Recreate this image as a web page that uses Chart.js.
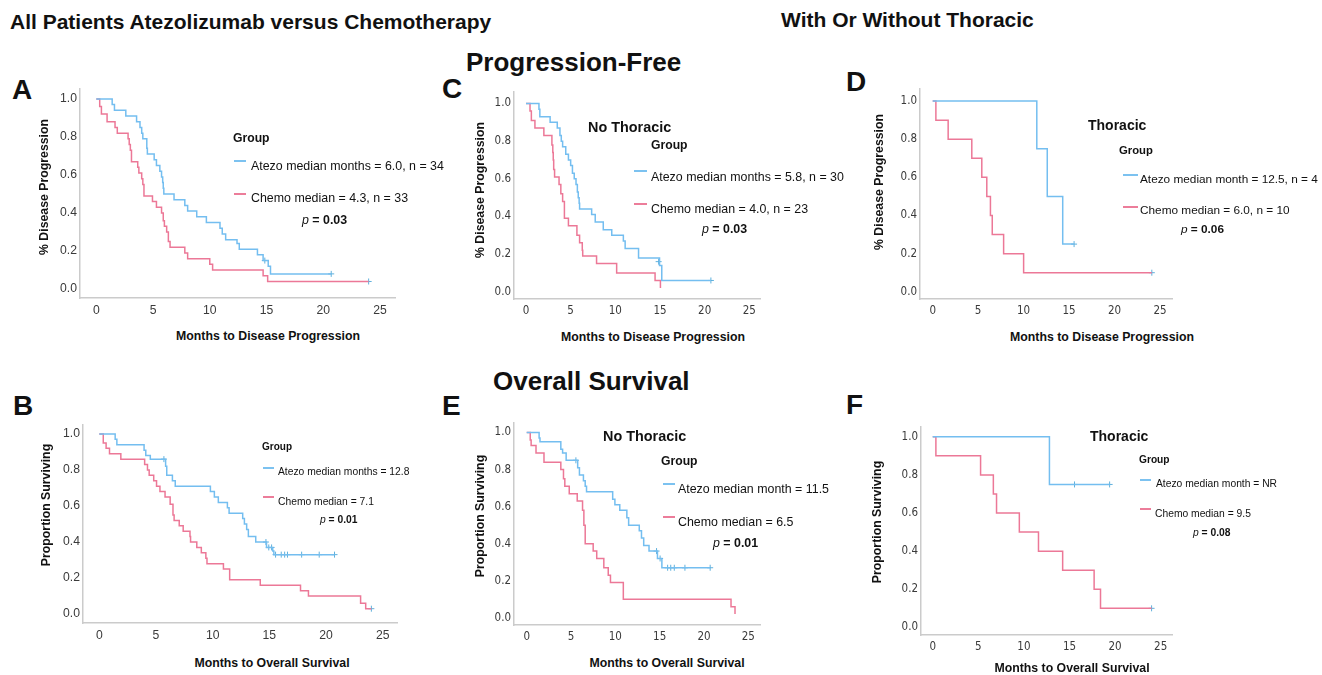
<!DOCTYPE html>
<html>
<head>
<meta charset="utf-8">
<script src="https://cdn.jsdelivr.net/npm/chart.js@4.4.1/dist/chart.umd.min.js"></script>
<style>
    body { margin: 0; width: 1322px; height: 675px; background: #fff; position: relative; overflow: hidden;
           font-family: "Liberation Sans", Arial, sans-serif; color: #111; }
    .t { position: absolute; white-space: nowrap; line-height: 1; transform: translateY(-50%); }
    .b { font-weight: bold; }
    .c { transform: translate(-50%, -50%); }
    .r { transform: translate(-50%, -50%) rotate(-90deg); }
    .sw { position: absolute; height: 2px; }
    .blue { background: #7cc2f0; }
    .pink { background: #ec7d9a; }
    canvas { position: absolute; }
</style>
</head>
<body>

<!-- headings -->
<div class="t b" style="left:10px;top:21px;font-size:21px">All Patients Atezolizumab versus Chemotherapy</div>
<div class="t b" style="left:781px;top:19px;font-size:21px">With Or Without Thoracic</div>
<div class="t b" style="left:466px;top:62px;font-size:26px">Progression-Free</div>
<div class="t b" style="left:493px;top:381px;font-size:26px">Overall Survival</div>

<div class="t b" style="left:12px;top:90px;font-size:28px">A</div>
<div class="t b" style="left:13px;top:406px;font-size:28px">B</div>
<div class="t b" style="left:442px;top:89px;font-size:28px">C</div>
<div class="t b" style="left:846px;top:82px;font-size:28px">D</div>
<div class="t b" style="left:442px;top:406px;font-size:28px">E</div>
<div class="t b" style="left:846px;top:405px;font-size:28px">F</div>

<canvas id="cA"></canvas>
<canvas id="cB"></canvas>
<canvas id="cC"></canvas>
<canvas id="cD"></canvas>
<canvas id="cE"></canvas>
<canvas id="cF"></canvas>

<!-- axis titles -->
<div class="t b c" style="left:268px;top:336px;font-size:12.3px">Months to Disease Progression</div>
<div class="t b r" style="left:44px;top:187px;font-size:12.3px">% Disease Progression</div>
<div class="t b c" style="left:272px;top:663px;font-size:12.3px">Months to Overall Survival</div>
<div class="t b r" style="left:46px;top:505px;font-size:12.3px">Proportion Surviving</div>
<div class="t b c" style="left:653px;top:337px;font-size:12.3px">Months to Disease Progression</div>
<div class="t b r" style="left:480px;top:190px;font-size:12.3px">% Disease Progression</div>
<div class="t b c" style="left:1102px;top:337px;font-size:12.3px">Months to Disease Progression</div>
<div class="t b r" style="left:879px;top:182px;font-size:12.3px">% Disease Progression</div>
<div class="t b c" style="left:667px;top:663px;font-size:12.3px">Months to Overall Survival</div>
<div class="t b r" style="left:480px;top:516px;font-size:12.3px">Proportion Surviving</div>
<div class="t b c" style="left:1072px;top:668px;font-size:12.3px">Months to Overall Survival</div>
<div class="t b r" style="left:877px;top:522px;font-size:12.3px">Proportion Surviving</div>

<!-- legends A -->
<div class="t b" style="left:233px;top:138px;font-size:12.2px">Group</div>
<div class="sw blue" style="left:234px;top:160px;width:12px"></div>
<div class="t" style="left:251px;top:166px;font-size:12.4px">Atezo median months = 6.0, n = 34</div>
<div class="sw pink" style="left:234px;top:193px;width:12px"></div>
<div class="t" style="left:251px;top:198px;font-size:12.4px">Chemo median = 4.3, n = 33</div>
<div class="t" style="left:302px;top:220px;font-size:12.4px"><i>p</i><b> = 0.03</b></div>

<!-- legends B -->
<div class="t b" style="left:262px;top:447px;font-size:10px">Group</div>
<div class="sw blue" style="left:263px;top:467px;width:11px"></div>
<div class="t" style="left:278px;top:472px;font-size:10.3px">Atezo median months = 12.8</div>
<div class="sw pink" style="left:263px;top:496px;width:11px"></div>
<div class="t" style="left:278px;top:502px;font-size:10.3px">Chemo median = 7.1</div>
<div class="t" style="left:320px;top:520px;font-size:10.3px"><i>p</i><b> = 0.01</b></div>

<!-- legends C -->
<div class="t b" style="left:588px;top:127px;font-size:14.4px">No Thoracic</div>
<div class="t b" style="left:651px;top:145px;font-size:12.2px">Group</div>
<div class="sw blue" style="left:634px;top:170px;width:13px"></div>
<div class="t" style="left:651px;top:177px;font-size:12.4px">Atezo median months = 5.8, n = 30</div>
<div class="sw pink" style="left:634px;top:203px;width:13px"></div>
<div class="t" style="left:651px;top:209px;font-size:12.4px">Chemo median = 4.0, n = 23</div>
<div class="t" style="left:702px;top:229px;font-size:12.4px"><i>p</i><b> = 0.03</b></div>

<!-- legends D -->
<div class="t b" style="left:1088px;top:125px;font-size:14px">Thoracic</div>
<div class="t b" style="left:1119px;top:151px;font-size:11.3px">Group</div>
<div class="sw blue" style="left:1123px;top:174px;width:15px"></div>
<div class="t" style="left:1140px;top:180px;font-size:11.8px">Atezo median month = 12.5, n = 4</div>
<div class="sw pink" style="left:1123px;top:206px;width:15px"></div>
<div class="t" style="left:1140px;top:211px;font-size:11.8px">Chemo median = 6.0, n = 10</div>
<div class="t" style="left:1181px;top:230px;font-size:11.8px"><i>p</i><b> = 0.06</b></div>

<!-- legends E -->
<div class="t b" style="left:603px;top:436px;font-size:14.4px">No Thoracic</div>
<div class="t b" style="left:661px;top:461px;font-size:12.2px">Group</div>
<div class="sw blue" style="left:663px;top:483px;width:12px"></div>
<div class="t" style="left:678px;top:489px;font-size:12.4px">Atezo median month = 11.5</div>
<div class="sw pink" style="left:663px;top:516px;width:12px"></div>
<div class="t" style="left:678px;top:522px;font-size:12.4px">Chemo median = 6.5</div>
<div class="t" style="left:713px;top:543px;font-size:12.4px"><i>p</i><b> = 0.01</b></div>

<!-- legends F -->
<div class="t b" style="left:1090px;top:436px;font-size:14px">Thoracic</div>
<div class="t b" style="left:1139px;top:460px;font-size:10.2px">Group</div>
<div class="sw blue" style="left:1140px;top:479px;width:11px"></div>
<div class="t" style="left:1156px;top:484px;font-size:10.3px">Atezo median month = NR</div>
<div class="sw pink" style="left:1140px;top:508px;width:11px"></div>
<div class="t" style="left:1155px;top:514px;font-size:10.3px">Chemo median = 9.5</div>
<div class="t" style="left:1193px;top:533px;font-size:10.3px"><i>p</i><b> = 0.08</b></div>

<script>
// axis ticks shared by every panel
var monthTicks = [0, 5, 10, 15, 20, 25];
var survTicks = [0, 0.2, 0.4, 0.6, 0.8, 1.0];

// A: progression-free, all patients  [month, proportion]
var pfsAllAtezo = [[0, 1.00], [1.4, 0.97], [1.6, 0.94], [2.6, 0.91], [3.55, 0.88], [3.85, 0.85], [4.0, 0.82], [4.1, 0.79],
    [4.45, 0.74], [4.5, 0.71], [5.1, 0.68], [5.3, 0.65], [5.6, 0.62], [5.75, 0.59], [5.85, 0.56], [5.9, 0.53], [5.95, 0.50],
    [6.85, 0.47], [7.8, 0.44], [8.05, 0.41], [8.85, 0.38], [9.7, 0.35], [10.9, 0.32], [11.1, 0.29], [11.4, 0.26],
    [12.4, 0.24], [12.6, 0.21], [14.2, 0.18], [14.7, 0.15], [15.15, 0.12], [15.35, 0.08], [20.7, 0.08]];
var pfsAllAtezoCensor = [[14.85, 0.15], [20.7, 0.08]];
var pfsAllChemo = [[0, 1.00], [0.3, 0.96], [0.45, 0.92], [0.95, 0.88], [1.65, 0.85], [1.85, 0.82], [2.8, 0.79], [2.9, 0.76],
    [3.0, 0.73], [3.1, 0.67], [3.65, 0.64], [3.75, 0.61], [4.0, 0.58], [4.1, 0.55], [4.2, 0.49], [4.95, 0.46], [5.3, 0.43],
    [5.75, 0.40], [5.9, 0.36], [6.0, 0.33], [6.2, 0.30], [6.35, 0.25], [6.5, 0.22], [7.8, 0.19], [8.05, 0.16],
    [10.0, 0.13], [10.25, 0.10], [14.7, 0.07], [15.1, 0.04], [24.0, 0.04]];
var pfsAllChemoCensor = [[24.0, 0.04]];

// B: overall survival, all patients
var osAllAtezo = [[0, 1.00], [1.4, 0.97], [1.55, 0.94], [3.95, 0.91], [4.1, 0.88], [4.5, 0.86], [5.85, 0.82], [5.95, 0.77],
    [6.45, 0.74], [6.7, 0.71], [9.8, 0.68], [10.15, 0.65], [10.5, 0.62], [11.3, 0.59], [11.45, 0.56], [12.65, 0.53],
    [12.8, 0.50], [13.0, 0.47], [13.15, 0.43], [13.8, 0.40], [14.75, 0.37], [15.3, 0.35], [15.4, 0.33], [20.75, 0.33]];
var osAllAtezoCensor = [[5.7, 0.86], [14.7, 0.40], [14.95, 0.37], [15.2, 0.37], [15.55, 0.33], [16.05, 0.33], [16.35, 0.33],
    [16.6, 0.33], [17.85, 0.33], [19.4, 0.33], [20.75, 0.33]];
var osAllChemo = [[0, 1.00], [0.35, 0.95], [0.6, 0.92], [0.9, 0.89], [1.9, 0.86], [4.0, 0.83], [4.25, 0.80], [4.4, 0.77],
    [4.8, 0.74], [5.05, 0.71], [5.35, 0.68], [5.8, 0.65], [6.25, 0.61], [6.5, 0.55], [6.6, 0.52], [7.05, 0.49], [7.4, 0.46],
    [8.0, 0.43], [8.05, 0.40], [8.6, 0.37], [9.0, 0.34], [9.4, 0.31], [9.5, 0.28], [10.95, 0.25], [11.5, 0.19],
    [14.2, 0.16], [17.75, 0.13], [18.45, 0.10], [23.05, 0.06], [23.5, 0.03], [24.0, 0.03]];
var osAllChemoCensor = [[24.0, 0.03]];

// C: progression-free, no thoracic
var pfsNoThorAtezo = [[0, 1.00], [1.45, 0.97], [1.55, 0.93], [2.7, 0.90], [3.5, 0.87], [3.8, 0.83], [3.95, 0.80], [4.1, 0.77],
    [4.45, 0.73], [4.75, 0.70], [5.0, 0.67], [5.2, 0.63], [5.4, 0.60], [5.6, 0.57], [5.75, 0.53], [5.85, 0.50], [5.95, 0.47],
    [6.0, 0.44], [7.35, 0.41], [7.75, 0.37], [8.65, 0.33], [9.6, 0.30], [10.9, 0.27], [11.1, 0.23], [12.6, 0.18],
    [14.95, 0.14], [15.2, 0.06], [20.7, 0.06]];
var pfsNoThorAtezoCensor = [[14.85, 0.16], [20.7, 0.06]];
var pfsNoThorChemo = [[0, 1.00], [0.45, 0.96], [0.6, 0.91], [1.0, 0.87], [2.0, 0.83], [2.9, 0.78], [3.0, 0.74], [3.05, 0.70],
    [3.1, 0.65], [3.2, 0.61], [3.7, 0.57], [3.9, 0.52], [4.1, 0.48], [4.3, 0.39], [4.75, 0.35], [5.7, 0.30], [6.0, 0.26],
    [6.3, 0.22], [6.35, 0.19], [7.9, 0.15], [10.15, 0.10], [14.45, 0.06], [15.05, 0.02]];
var pfsNoThorChemoCensor = [];

// D: progression-free, thoracic
var pfsThorAtezo = [[0, 1.00], [11.45, 0.75], [12.6, 0.50], [14.3, 0.25], [15.55, 0.25]];
var pfsThorAtezoCensor = [[15.55, 0.25]];
var pfsThorChemo = [[0, 1.00], [0.35, 0.90], [1.7, 0.80], [4.3, 0.70], [5.4, 0.60], [5.95, 0.50], [6.35, 0.40], [6.55, 0.30],
    [7.8, 0.20], [10.0, 0.10], [24.1, 0.10]];
var pfsThorChemoCensor = [[24.1, 0.10]];

// E: overall survival, no thoracic
var osNoThorAtezo = [[0, 1.00], [1.4, 0.97], [1.5, 0.95], [3.85, 0.91], [4.05, 0.89], [4.45, 0.85], [5.75, 0.81], [5.95, 0.77],
    [6.4, 0.74], [6.6, 0.71], [6.75, 0.68], [9.7, 0.64], [9.95, 0.61], [10.5, 0.58], [11.3, 0.54], [11.5, 0.50], [12.7, 0.47],
    [12.95, 0.43], [13.2, 0.39], [13.8, 0.36], [14.75, 0.32], [15.25, 0.27], [20.7, 0.27]];
var osNoThorAtezoCensor = [[5.55, 0.85], [14.65, 0.36], [15.05, 0.32], [15.9, 0.27], [16.25, 0.27], [16.65, 0.27],
    [17.85, 0.27], [20.7, 0.27]];
var osNoThorChemo = [[0, 1.00], [0.4, 0.96], [0.5, 0.93], [1.05, 0.89], [1.95, 0.84], [3.85, 0.80], [4.15, 0.75], [4.3, 0.71],
    [4.8, 0.67], [5.7, 0.63], [6.3, 0.58], [6.45, 0.50], [6.6, 0.40], [7.5, 0.36], [7.9, 0.32], [8.7, 0.27], [9.2, 0.23],
    [9.45, 0.19], [10.9, 0.10], [23.05, 0.06], [23.5, 0.02]];
var osNoThorChemoCensor = [];

// F: overall survival, thoracic
var osThorAtezo = [[0, 1.00], [12.8, 0.75], [19.4, 0.75]];
var osThorAtezoCensor = [[15.55, 0.75], [19.4, 0.75]];
var osThorChemo = [[0, 1.00], [0.35, 0.90], [5.25, 0.80], [6.65, 0.70], [7.0, 0.60], [9.5, 0.50], [11.6, 0.40], [14.25, 0.30],
    [17.7, 0.20], [18.4, 0.10], [24.0, 0.10]];
var osThorChemoCensor = [[24.0, 0.10]];

var BLUE = '#74bef0';
var PINK = '#ec7897';
var CENSOR = '#5fb0dc';
var wideFont = { family: "'Liberation Sans', Arial, sans-serif", size: 12.2 };
var narrowFont = { family: "'Liberation Sans Narrow', 'DejaVu Sans Condensed', sans-serif", size: 11.5 };

function pts(arr) {
    return arr.map(function (p) { return { x: p[0], y: p[1] }; });
}

function curve(arr, color) {
    return { data: pts(arr), stepped: true, borderColor: color, borderWidth: 1.5, pointRadius: 0, fill: false };
}

function censor(arr) {
    return { data: pts(arr), showLine: false, pointStyle: 'cross', pointRadius: 3,
             pointBorderColor: CENSOR, pointBorderWidth: 1, pointHoverRadius: 3 };
}

// g: pixel frame of the plot (axis lines, where 0/25 months and 0/1 sit)
function drawPanel(id, g, atezo, atezoCens, chemo, chemoCens, font) {
    var padL = 45, padT = 8, padR = 8, padB = 26;
    var cv = document.getElementById(id);
    var w = g.right - g.left + padL + padR;
    var h = g.bottom - g.top + padT + padB;
    cv.width = w;
    cv.height = h;
    cv.style.left = (g.left - padL) + 'px';
    cv.style.top = (g.top - padT) + 'px';

    var pxMonth = (g.x25 - g.x0) / 25;
    var pxUnit = g.y0 - g.y1;

    new Chart(cv, {
        type: 'line',
        data: { datasets: [curve(atezo, BLUE), curve(chemo, PINK), censor(atezoCens), censor(chemoCens)] },
        options: {
            responsive: false,
            animation: false,
            layout: { padding: { top: padT, right: padR, left: 0, bottom: 0 } },
            plugins: { legend: { display: false }, tooltip: { enabled: false } },
            scales: {
                x: {
                    type: 'linear',
                    bounds: 'data',
                    min: (g.left - g.x0) / pxMonth,
                    max: (g.right - g.x0) / pxMonth,
                    grid: { display: false, drawTicks: false },
                    border: { display: true, color: '#cbcbcb', width: 1.5 },
                    ticks: { font: font, color: '#3a3a3a', padding: 5, maxRotation: 0, autoSkip: false,
                             callback: function (v) { return String(v); } },
                    afterBuildTicks: function (s) { s.ticks = monthTicks.map(function (v) { return { value: v }; }); },
                    afterFit: function (s) { s.height = padB; }
                },
                y: {
                    type: 'linear',
                    bounds: 'data',
                    min: (g.y0 - g.bottom) / pxUnit,
                    max: (g.y0 - g.top) / pxUnit,
                    grid: { display: false, drawTicks: false },
                    border: { display: true, color: '#cbcbcb', width: 1.5 },
                    ticks: { font: font, color: '#3a3a3a', padding: 3, autoSkip: false,
                             callback: function (v) { return v.toFixed(1); } },
                    afterBuildTicks: function (s) { s.ticks = survTicks.map(function (v) { return { value: v }; }); },
                    afterFit: function (s) { s.width = padL; }
                }
            }
        }
    });
}

drawPanel('cA', { left: 80, right: 395, top: 86, bottom: 298, x0: 96.3, x25: 380, y1: 96.7, y0: 289 },
    pfsAllAtezo, pfsAllAtezoCensor, pfsAllChemo, pfsAllChemoCensor, wideFont);
drawPanel('cB', { left: 83, right: 397, top: 422, bottom: 623, x0: 99.3, x25: 382.7, y1: 431.7, y0: 614 },
    osAllAtezo, osAllAtezoCensor, osAllChemo, osAllChemoCensor, wideFont);
drawPanel('cC', { left: 514, right: 760, top: 90, bottom: 299, x0: 526, x25: 749.3, y1: 101.7, y0: 291.7 },
    pfsNoThorAtezo, pfsNoThorAtezoCensor, pfsNoThorChemo, pfsNoThorChemoCensor, narrowFont);
drawPanel('cD', { left: 920, right: 1172, top: 87, bottom: 299, x0: 932.7, x25: 1160, y1: 99.3, y0: 291.7 },
    pfsThorAtezo, pfsThorAtezoCensor, pfsThorChemo, pfsThorChemoCensor, narrowFont);
drawPanel('cE', { left: 514, right: 760, top: 421, bottom: 625, x0: 526.7, x25: 748.3, y1: 430.7, y0: 617.7 },
    osNoThorAtezo, osNoThorAtezoCensor, osNoThorChemo, osNoThorChemoCensor, narrowFont);
drawPanel('cF', { left: 921, right: 1172, top: 425, bottom: 635, x0: 932.7, x25: 1160.7, y1: 435, y0: 627.3 },
    osThorAtezo, osThorAtezoCensor, osThorChemo, osThorChemoCensor, narrowFont);
</script>
</body>
</html>
